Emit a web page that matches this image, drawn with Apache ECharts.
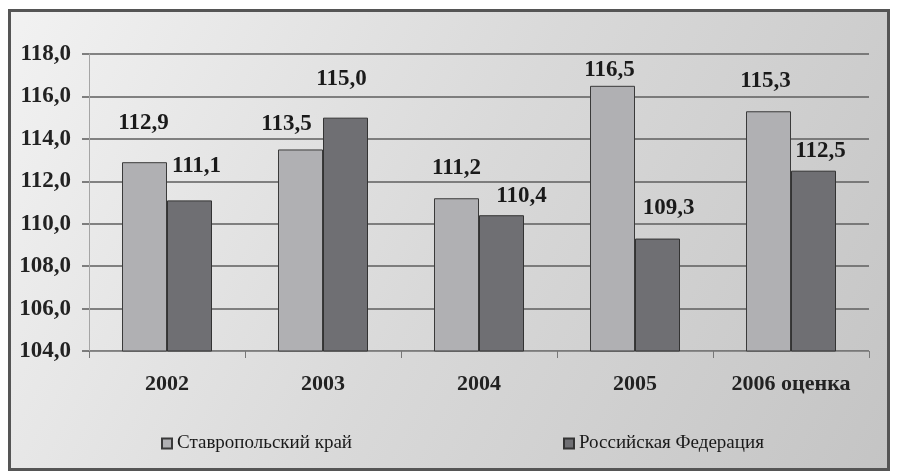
<!DOCTYPE html>
<html>
<head>
<meta charset="utf-8">
<script src="https://cdn.jsdelivr.net/npm/echarts@6/dist/echarts.min.js"></script>
<style>
  html, body { margin: 0; padding: 0; background: #fff; }
  #chart { width: 898px; height: 474px; }
</style>
</head>
<body>
<div id="chart"></div>
<script>
const years = ['2002', '2003', '2004', '2005', '2006 оценка']
const stavropol = [112.9, 113.5, 111.2, 116.5, 115.3]
const russia = [111.1, 115.0, 110.4, 109.3, 112.5]
const seriesNames = ['Ставропольский край', 'Российская Федерация']

// where each value label sits relative to its bar (dx, lift)
const stavLabelPos = [[-1, 28], [-14, 14], [0, 19], [-3, 4], [-3, 19]]
const rusLabelPos = [[7, 23], [-4, 27], [20, 8], [11, 19], [7, 8]]

const serif = '"Liberation Serif", "Times New Roman", serif'
const fmt = v => v.toFixed(1).replace('.', ',')

function buildData(values, pos) {
  return values.map((v, i) => ({
    value: v,
    label: { distance: pos[i][1], offset: [pos[i][0], 0] }
  }))
}

const chart = echarts.init(document.getElementById('chart'))
chart.setOption({
  animation: false,
  graphic: [
    {
      type: 'rect',
      z: -100,
      silent: true,
      shape: { x: 9.5, y: 10.5, width: 879, height: 459 },
      style: {
        fill: new echarts.graphic.LinearGradient(0, 0, 1, 1, [
          { offset: 0, color: '#f2f2f2' },
          { offset: 0.5, color: '#d9d9d9' },
          { offset: 1, color: '#c4c4c4' }
        ]),
        stroke: '#555',
        lineWidth: 3
      }
    }
  ],
  legend: [
    {
      data: [seriesNames[0]],
      left: 156,
      top: 429,
      itemWidth: 10,
      itemHeight: 10,
      itemGap: 6,
      icon: 'rect',
      textStyle: { fontFamily: serif, fontSize: 19, color: '#1a1a1a' }
    },
    {
      data: [seriesNames[1]],
      left: 558,
      top: 429,
      itemWidth: 10,
      itemHeight: 10,
      icon: 'rect',
      textStyle: { fontFamily: serif, fontSize: 19, color: '#1a1a1a' }
    }
  ],
  grid: { left: 89, right: 29, top: 54, bottom: 123 },
  xAxis: {
    type: 'category',
    data: years,
    axisLine: { lineStyle: { color: '#8a8a8a', width: 1 } },
    axisTick: { show: true, length: 7, lineStyle: { color: '#777' } },
    axisLabel: {
      margin: 22,
      fontFamily: serif,
      fontWeight: 'bold',
      fontSize: 22,
      color: '#222'
    }
  },
  yAxis: {
    type: 'value',
    min: 104,
    max: 118,
    interval: 2,
    axisLine: { show: true, lineStyle: { color: '#a5a5a5', width: 1 } },
    axisTick: { show: true, length: 7, lineStyle: { color: '#5a5a5a', width: 1.5 } },
    splitLine: { lineStyle: { color: '#5e5e5e', width: 1.5 } },
    axisLabel: {
      margin: 18,
      fontFamily: serif,
      fontWeight: 'bold',
      fontSize: 23,
      color: '#222',
      formatter: fmt
    }
  },
  series: [
    {
      name: seriesNames[0],
      type: 'bar',
      barWidth: 45,
      barGap: '0%',
      data: buildData(stavropol, stavLabelPos),
      itemStyle: { color: '#b0b0b3', borderColor: '#3a3a3a', borderWidth: 1 },
      label: {
        show: true,
        position: 'top',
        fontFamily: serif,
        fontWeight: 'bold',
        fontSize: 23,
        color: '#1a1a1a',
        formatter: p => fmt(p.value)
      }
    },
    {
      name: seriesNames[1],
      type: 'bar',
      barWidth: 45,
      barGap: '0%',
      data: buildData(russia, rusLabelPos),
      itemStyle: { color: '#6f6f73', borderColor: '#333', borderWidth: 1 },
      label: {
        show: true,
        position: 'top',
        fontFamily: serif,
        fontWeight: 'bold',
        fontSize: 23,
        color: '#1a1a1a',
        formatter: p => fmt(p.value)
      }
    }
  ]
})
</script>
</body>
</html>
